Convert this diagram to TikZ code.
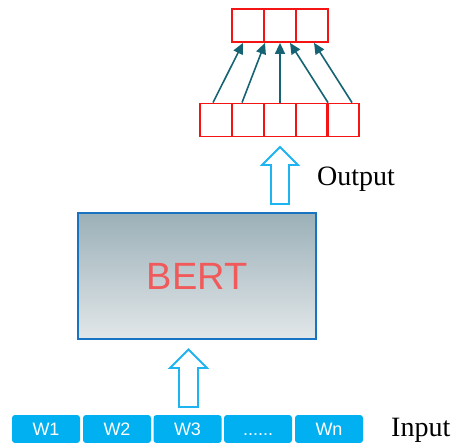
\documentclass[tikz,border=0pt]{standalone}
\usepackage{fontspec}
\setmainfont{Liberation Serif}
\newfontfamily\arialfont{Liberation Sans}
\usetikzlibrary{arrows.meta}
\definecolor{cellred}{RGB}{245,20,20}
\definecolor{tealc}{RGB}{22,100,115}
\definecolor{hollowblue}{RGB}{30,180,240}
\definecolor{bertblue}{RGB}{25,115,195}
\definecolor{berttop}{RGB}{155,176,184}
\definecolor{bertbot}{RGB}{226,231,233}
\definecolor{bertred}{RGB}{240,90,90}
\definecolor{inputcyan}{RGB}{0,176,240}
\begin{document}
\begin{tikzpicture}[x=1pt,y=-1pt,
  redcell/.style={draw=cellred,line width=1.8pt,minimum width=32pt,minimum height=33pt,inner sep=0pt},
  tealarrow/.style={draw=tealc,line width=1.6pt,-{Triangle[width=10pt,length=11pt]}},
  hollow/.style={draw=hollowblue,line width=1.8pt,fill=white,line join=miter},
  bertbox/.style={draw=bertblue,line width=1.6pt,top color=berttop,bottom color=bertbot,minimum width=238pt,minimum height=126pt,inner sep=0pt,font=\arialfont\fontsize{38}{38}\selectfont,text=bertred},
  incell/.style={fill=inputcyan,rounded corners=3pt,minimum width=68pt,minimum height=28pt,inner sep=0pt,text height=13pt,text depth=0pt,text=white,font=\arialfont\fontsize{18}{18}\selectfont},
  label/.style={font=\fontsize{28}{28}\selectfont,inner sep=0pt}]
\useasboundingbox (0,0) rectangle (454,443);
% top row
\node[redcell] (t1) at (248,25.5) {};
\node[redcell] (t2) at (280,25.5) {};
\node[redcell] (t3) at (312,25.5) {};
% bottom row
\node[redcell] (b1) at (216,120) {};
\node[redcell] (b2) at (248,120) {};
\node[redcell] (b3) at (280,120) {};
\node[redcell] (b4) at (312,120) {};
\node[redcell] (b5) at (343,120) {};
% teal arrows
\draw[tealarrow] ([xshift=-3pt]b1.north) -- ([xshift=-5pt]t1.south);
\draw[tealarrow] ([xshift=-6pt]b2.north) -- ([xshift=-15pt]t2.south);
\draw[tealarrow] (b3.north) -- (t2.south);
\draw[tealarrow] ([xshift=16pt]b4.north) -- ([xshift=10pt]t2.south);
\draw[tealarrow] ([xshift=9pt]b5.north) -- ([xshift=2pt]t3.south);
% BERT
\node[bertbox] (bert) at (197,276) {BERT};
% hollow arrows
\draw[hollow] (271,204) -- (271,165) -- (262,165) -- (280,147) -- (298,165) -- (289,165) -- (289,204) -- cycle;
\draw[hollow] (179,407) -- (179,368) -- (170,368) -- (188.5,349.5) -- (207,368) -- (198,368) -- (198,407) -- cycle;
\node[label,anchor=base west] (out) at (317,186) {Output};
% input row
\node[incell] (w1) at (46,429) {W1};
\node[incell] (w2) at (117,429) {W2};
\node[incell] (w3) at (187.5,429) {W3};
\node[incell] (wd) at (258,429) {......};
\node[incell] (wn) at (329,429) {Wn};
\node[label,anchor=base west] (in) at (391,436.5) {Input};
\end{tikzpicture}
\end{document}
